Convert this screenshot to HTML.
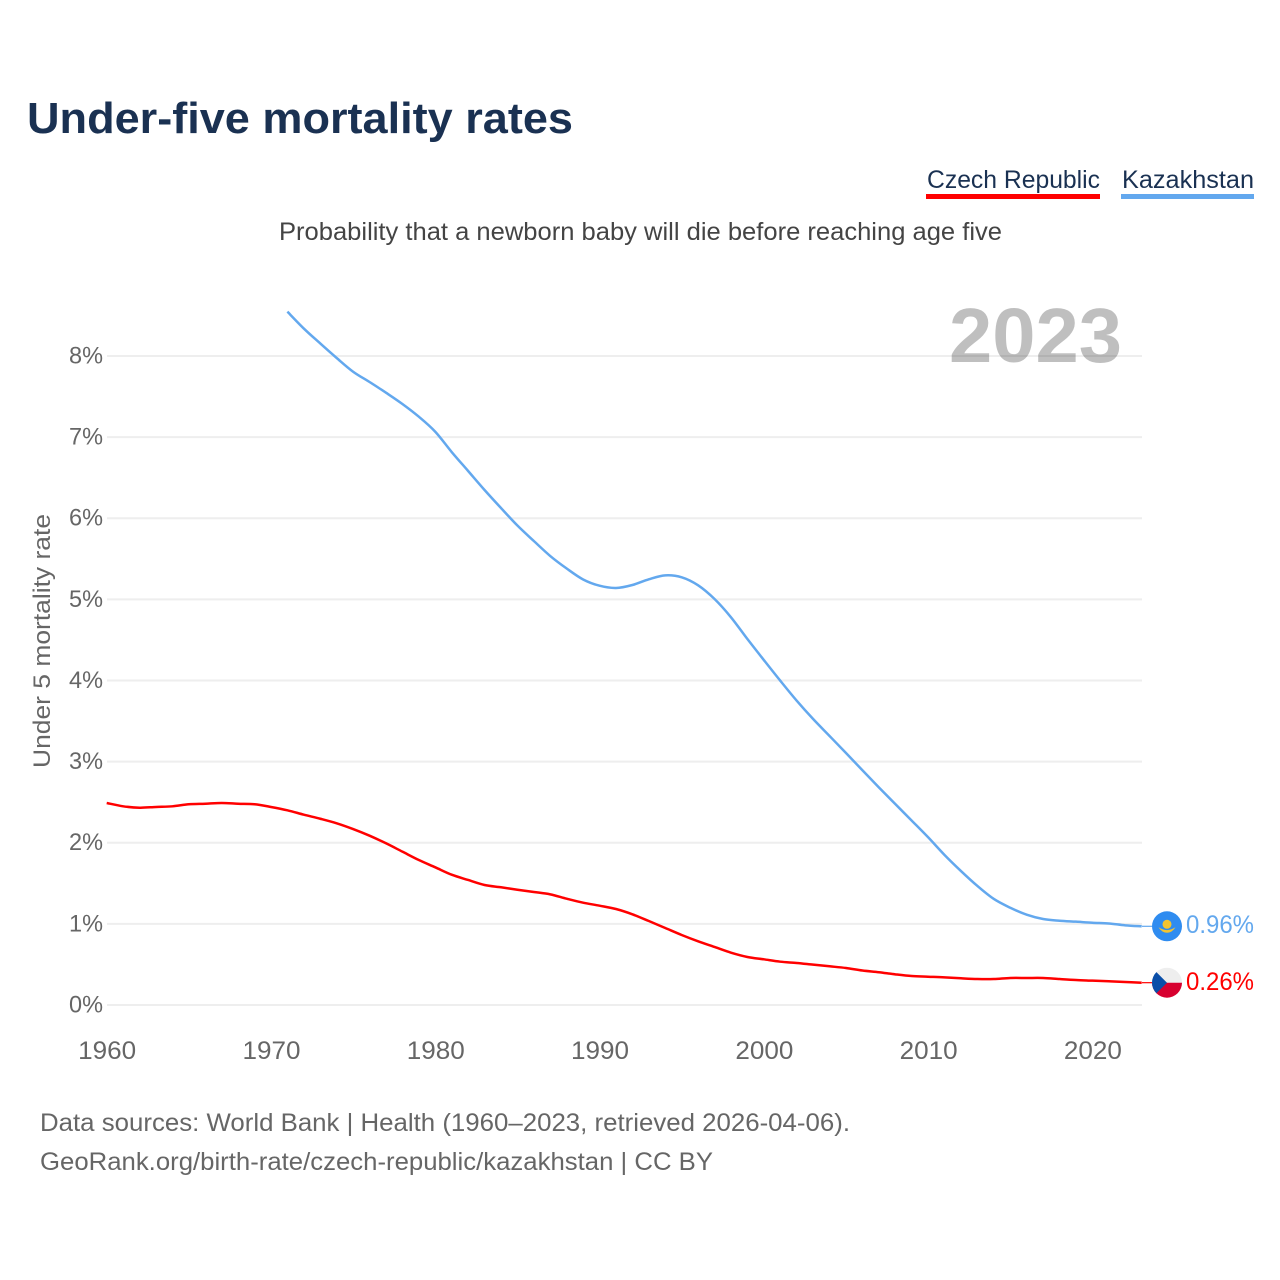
<!DOCTYPE html>
<html lang="en">
<head>
<meta charset="utf-8">
<title>Under-five mortality rates</title>
<style>
html,body{margin:0;padding:0;background:#fff;width:1280px;height:1280px;overflow:hidden}
svg{display:block}
text{font-family:"Liberation Sans",sans-serif}
</style>
</head>
<body>
<svg id="chart" width="1280" height="1280" viewBox="0 0 1280 1280" xmlns="http://www.w3.org/2000/svg">
  <text x="27" y="133" font-size="44" font-weight="700" fill="#1a3152" textLength="546" lengthAdjust="spacingAndGlyphs">Under-five mortality rates</text>

  <g>
    <text x="927" y="188" font-size="25" fill="#1a3152" textLength="173" lengthAdjust="spacingAndGlyphs">Czech Republic</text>
    <rect x="926" y="194" width="174" height="5" fill="#ff0000"/>
  </g>
  <g>
    <text x="1122" y="188" font-size="25" fill="#1a3152" textLength="132" lengthAdjust="spacingAndGlyphs">Kazakhstan</text>
    <rect x="1121" y="194" width="133" height="5" fill="#63a8ee"/>
  </g>

  <text x="279" y="240" font-size="25" fill="#444444" textLength="723" lengthAdjust="spacingAndGlyphs">Probability that a newborn baby will die before reaching age five</text>

  <g id="grid"></g>
  <g id="yticks"></g>
  <g id="xticks"></g>

  <text transform="translate(50 641) rotate(-90)" text-anchor="middle" font-size="24" fill="#666666" textLength="254" lengthAdjust="spacingAndGlyphs">Under 5 mortality rate</text>

  <g id="series"></g>

  <text x="949" y="362" font-size="77" font-weight="700" fill="#000000" fill-opacity="0.25" textLength="173" lengthAdjust="spacingAndGlyphs">2023</text>

  <g id="ends"></g>

  <text x="40" y="1131" font-size="25" fill="#666666" textLength="810" lengthAdjust="spacingAndGlyphs">Data sources: World Bank | Health (1960–2023, retrieved 2026-04-06).</text>
  <text x="40" y="1170" font-size="25" fill="#666666" textLength="673" lengthAdjust="spacingAndGlyphs">GeoRank.org/birth-rate/czech-republic/kazakhstan | CC BY</text>
</svg>
<script>
var czechYears = [1960,1961,1962,1963,1964,1965,1966,1967,1968,1969,1970,1971,1972,1973,1974,1975,1976,1977,1978,1979,1980,1981,1982,1983,1984,1985,1986,1987,1988,1989,1990,1991,1992,1993,1994,1995,1996,1997,1998,1999,2000,2001,2002,2003,2004,2005,2006,2007,2008,2009,2010,2011,2012,2013,2014,2015,2016,2017,2018,2019,2020,2021,2022,2023];
var czechValues = [2.490,2.449,2.432,2.441,2.449,2.474,2.481,2.490,2.481,2.474,2.441,2.400,2.346,2.296,2.240,2.169,2.087,1.993,1.890,1.787,1.697,1.606,1.541,1.479,1.451,1.421,1.393,1.364,1.310,1.261,1.224,1.183,1.118,1.035,0.949,0.863,0.785,0.715,0.645,0.592,0.563,0.534,0.518,0.497,0.477,0.456,0.425,0.404,0.378,0.357,0.349,0.341,0.329,0.320,0.320,0.333,0.333,0.333,0.320,0.308,0.300,0.292,0.283,0.275];
var kazakhYears = [1971,1972,1973,1974,1975,1976,1977,1978,1979,1980,1981,1982,1983,1984,1985,1986,1987,1988,1989,1990,1991,1992,1993,1994,1995,1996,1997,1998,1999,2000,2001,2002,2003,2004,2005,2006,2007,2008,2009,2010,2011,2012,2013,2014,2015,2016,2017,2018,2019,2020,2021,2022,2023];
var kazakhValues = [8.546,8.338,8.154,7.975,7.806,7.679,7.547,7.408,7.251,7.066,6.816,6.582,6.348,6.126,5.910,5.719,5.534,5.380,5.245,5.168,5.140,5.177,5.247,5.296,5.272,5.173,5.004,4.779,4.511,4.252,3.997,3.751,3.525,3.316,3.106,2.893,2.683,2.477,2.273,2.067,1.849,1.651,1.467,1.307,1.199,1.113,1.060,1.039,1.027,1.014,1.005,0.982,0.970];
var yTickValues = [0,1,2,3,4,5,6,7,8];
var yTickLabels = ["0%","1%","2%","3%","4%","5%","6%","7%","8%"];
var xTickValues = [1960,1970,1980,1990,2000,2010,2020];
var xTickLabels = ["1960","1970","1980","1990","2000","2010","2020"];
var czechEndLabel = "0.26%";
var kazakhEndLabel = "0.96%";

var NS = 'http://www.w3.org/2000/svg';
function xScale(year){ return 106.7 + (year - 1960) * (1141.7 - 106.7) / 63; }
function yScale(v){ return 1005 - v * 81.13; }
function make(tag, parent, attrs){
  var el = document.createElementNS(NS, tag);
  for (var k in attrs) el.setAttribute(k, attrs[k]);
  parent.appendChild(el);
  return el;
}
function linePath(xs, ys){
  var px = xs.map(xScale);
  var py = ys.map(yScale);
  var n = px.length;
  var d = 'M' + px[0].toFixed(2) + ' ' + py[0].toFixed(2);
  for (var i = 0; i < n - 1; i++){
    var a = Math.max(i - 1, 0), b = Math.min(i + 2, n - 1);
    var c1x = px[i] + (px[i + 1] - px[a]) / 6;
    var c1y = py[i] + (py[i + 1] - py[a]) / 6;
    var c2x = px[i + 1] - (px[b] - px[i]) / 6;
    var c2y = py[i + 1] - (py[b] - py[i]) / 6;
    d += ' C' + c1x.toFixed(2) + ' ' + c1y.toFixed(2) + ' ' + c2x.toFixed(2) + ' ' + c2y.toFixed(2) + ' ' + px[i + 1].toFixed(2) + ' ' + py[i + 1].toFixed(2);
  }
  return d;
}

var grid = document.getElementById('grid');
var yticks = document.getElementById('yticks');
yTickValues.forEach(function(v, i){
  var ln = make('line', grid, {x1:107, x2:1142, y1:yScale(v), y2:yScale(v), stroke:'#eeeeee', 'stroke-width':2});
  
  
  var t = make('text', yticks, {x:103, y:yScale(v) + 7.5, 'text-anchor':'end', 'font-size':24, fill:'#666666', textLength:34, lengthAdjust:'spacingAndGlyphs'});
  t.textContent = yTickLabels[i];
  
  
});

var xticks = document.getElementById('xticks');
xTickValues.forEach(function(year, i){
  var t = make('text', xticks, {x:xScale(year) + 0.5, y:1059, 'text-anchor':'middle', 'font-size':25, fill:'#666666', textLength:58, lengthAdjust:'spacingAndGlyphs'});
  t.textContent = xTickLabels[i];
  
  
});

var series = document.getElementById('series');
var czechLine = make('path', series, {d:linePath(czechYears, czechValues), fill:'none', stroke:'#ff0000', 'stroke-width':2.5, 'stroke-linejoin':'round'});


var kazakhLine = make('path', series, {d:linePath(kazakhYears, kazakhValues), fill:'none', stroke:'#63a8ee', 'stroke-width':2.5, 'stroke-linejoin':'round'});



var ends = document.getElementById('ends');
var kzY = yScale(kazakhValues[kazakhValues.length - 1]);
var czY = yScale(czechValues[czechValues.length - 1]);

var kzLead = make('line', ends, {x1:1142, x2:1152, y1:kzY, y2:kzY, stroke:'#63a8ee', 'stroke-width':1.2});


var czLead = make('line', ends, {x1:1142, x2:1152, y1:czY, y2:czY, stroke:'#ff0000', 'stroke-width':1.2});



var kzFlag = make('g', ends, {transform:'translate(1167 ' + kzY + ')'});


make('circle', kzFlag, {cx:0, cy:0, r:15, fill:'#2f8cf0'});
make('circle', kzFlag, {cx:0, cy:-2, r:4.5, fill:'#f4c430'});
make('path', kzFlag, {d:'M-8.5 1 Q-4 3.8 0 3.8 Q4 3.8 8.5 1 Q5 6.5 0 6.5 Q-5 6.5 -8.5 1 Z', fill:'#f4c430'});

var czFlag = make('g', ends, {transform:'translate(1167 ' + czY + ')'});


make('circle', czFlag, {cx:0, cy:0, r:15, fill:'#eeeeee'});
make('path', czFlag, {d:'M-15 0 A15 15 0 0 0 15 0 Z', fill:'#d7002f'});
make('path', czFlag, {d:'M-10.6 -10.6 L0 0 L-10.6 10.6 A15 15 0 0 1 -10.6 -10.6 Z', fill:'#0a4ea8'});

var kzText = make('text', ends, {x:1186, y:kzY + 6.5, 'font-size':25, fill:'#63a8ee', textLength:68, lengthAdjust:'spacingAndGlyphs'});
kzText.textContent = kazakhEndLabel;


var czText = make('text', ends, {x:1186, y:czY + 7.5, 'font-size':25, fill:'#ff0000', textLength:68, lengthAdjust:'spacingAndGlyphs'});
czText.textContent = czechEndLabel;


</script>
</body>
</html>
